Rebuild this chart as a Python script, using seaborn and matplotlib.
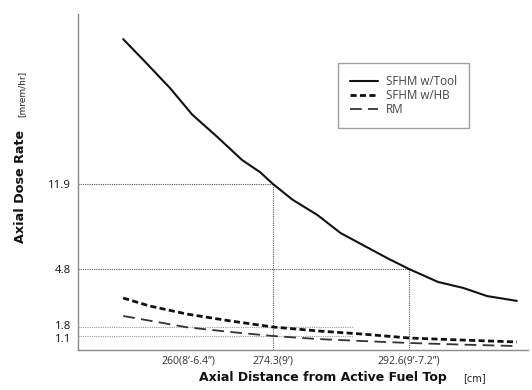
import numpy as np
import pandas as pd
import matplotlib
matplotlib.use("Agg")
import matplotlib.pyplot as plt
import matplotlib.transforms as mtransforms
import seaborn as sns

# ---- data ---------------------------------------------------------------
tool_x = [249.1, 252.8, 257.0, 260.7, 265.0, 269.1, 272.1, 274.3, 276.9,
          280.3, 283.4, 287.0, 289.7, 292.6, 296.5, 299.9, 303.1, 307.1]
tool_y = [24.0, 22.1, 19.9, 17.7, 15.8, 13.9, 12.9, 11.9, 10.6,
          9.3, 7.8, 6.6, 5.7, 4.8, 4.13, 3.82, 3.40, 3.15]

hb_x = [249.1, 253.5, 259.8, 267.2, 274.3, 280.4, 286.1, 292.7, 299.4, 307.1]
hb_y = [3.30, 2.89, 2.47, 2.11, 1.8, 1.49, 1.26, 0.94, 0.79, 0.63]

rm_x = [249.1, 259.8, 267.2, 274.3, 280.4, 286.1, 292.7, 299.4, 307.1]
rm_y = [2.37, 1.78, 1.41, 1.1, 0.86, 0.71, 0.55, 0.43, 0.31]

series_names = ["SFHM w/Tool", "SFHM w/HB", "RM"]

y_marks = [1.1, 1.8, 4.8, 11.9]
y_mark_labels = ["1.1", "1.8", "4.8", "11.9"]
x_marks = [260, 274.3, 292.6]
x_mark_labels = ["260(8\u2019-6.4\u201d)", "274.3(9\u2019)", "292.6(9\u2019-7.2\u201d)"]

# ---- piecewise-linear axis scales ---------------------------------------
def piecewise(knots_in, knots_out):
    ki = np.asarray(knots_in, float)
    ko = np.asarray(knots_out, float)
    s0 = (ko[1] - ko[0]) / (ki[1] - ki[0])
    s1 = (ko[-1] - ko[-2]) / (ki[-1] - ki[-2])

    def fwd(v):
        v = np.asarray(v, float)
        out = np.interp(v, ki, ko)
        out = np.where(v < ki[0], ko[0] + (v - ki[0]) * s0, out)
        out = np.where(v > ki[-1], ko[-1] + (v - ki[-1]) * s1, out)
        return out

    def inv(u):
        u = np.asarray(u, float)
        out = np.interp(u, ko, ki)
        out = np.where(u < ko[0], ki[0] + (u - ko[0]) / s0, out)
        out = np.where(u > ko[-1], ki[-1] + (u - ko[-1]) / s1, out)
        return out

    return fwd, inv

x_fwd, x_inv = piecewise([241.5, 260, 274.3, 292.6, 308.6], [0, 110, 195, 331, 450])
y_fwd, y_inv = piecewise([0, 1.1, 1.8, 4.8, 11.9, 26.1], [0, 14, 23, 81, 166, 336])

# ---- figure -------------------------------------------------------------
sns.set_theme(style="white")
plt.rcParams["font.family"] = ["DejaVu Sans"]

fig = plt.figure(figsize=(5.32, 3.90), dpi=100)
ax = fig.add_axes([78 / 532, 40 / 390, 450 / 532, 336 / 390])
ax.set_xscale("function", functions=(x_fwd, x_inv))
ax.set_yscale("function", functions=(y_fwd, y_inv))
ax.set_xlim(241.5, 308.6)
ax.set_ylim(0, 26.1)

df_tool = pd.DataFrame({"x": tool_x, "y": tool_y})
df_hb = pd.DataFrame({"x": hb_x, "y": hb_y})
df_rm = pd.DataFrame({"x": rm_x, "y": rm_y})

sns.lineplot(data=df_tool, x="x", y="y", ax=ax, color="#111111", lw=1.5,
             label=series_names[0], sort=False)
sns.lineplot(data=df_hb, x="x", y="y", ax=ax, color="#111111", lw=2.0,
             label=series_names[1], sort=False)
sns.lineplot(data=df_rm, x="x", y="y", ax=ax, color="#333333", lw=1.3,
             label=series_names[2], sort=False)
ax.lines[1].set_dashes((2.2, 1.2))
ax.lines[2].set_dashes((6.5, 3.5))

# reference lines to the marked values
dot = (0, (1, 1))
ax.plot([241.5, 274.3], [11.9, 11.9], color="#555555", lw=0.8, ls=dot, zorder=1)
ax.plot([274.3, 274.3], [0, 11.9], color="#555555", lw=0.8, ls=dot, zorder=1)
ax.plot([241.5, 292.6], [4.8, 4.8], color="#555555", lw=0.8, ls=dot, zorder=1)
ax.plot([292.6, 292.6], [0, 4.8], color="#555555", lw=0.8, ls=dot, zorder=1)
ax.plot([241.5, 285.0], [1.8, 1.8], color="#9a9a9a", lw=0.8, ls=dot, zorder=1)
ax.plot([241.5, 285.0], [1.1, 1.1], color="#9a9a9a", lw=0.8, ls=dot, zorder=1)

# axes styling
for side in ("top", "right"):
    ax.spines[side].set_visible(False)
for side in ("left", "bottom"):
    ax.spines[side].set_color("#8a8a8a")
    ax.spines[side].set_linewidth(1.0)

ax.set_yticks(y_marks)
ax.set_yticklabels(y_mark_labels, fontsize=8.2, color="#111111",
                   family=["Open Sans", "DejaVu Sans"])
ax.set_xticks(x_marks)
ax.set_xticklabels(x_mark_labels, fontsize=7.6, color="#333333",
                   family=["Open Sans", "DejaVu Sans"])
ax.tick_params(axis="y", length=0, pad=5)
ax.tick_params(axis="x", direction="in", length=6, width=1, color="#555555", pad=4)
ax.minorticks_off()
ax.set_xlabel("")
ax.set_ylabel("")

# nudge the two closely spaced labels apart
for lbl in ax.get_yticklabels():
    if lbl.get_text() == "1.8":
        lbl.set_transform(lbl.get_transform() +
                          mtransforms.ScaledTranslation(0, 2 / 100, fig.dpi_scale_trans))
    elif lbl.get_text() == "1.1":
        lbl.set_transform(lbl.get_transform() +
                          mtransforms.ScaledTranslation(0, -2.5 / 100, fig.dpi_scale_trans))

# axis titles with units
fig.text(0.607, 0.031, "Axial Distance from Active Fuel Top", fontsize=9,
         fontweight="bold", ha="center", va="center", color="#111111")
fig.text(0.892, 0.031, "[cm]", fontsize=7, ha="center", va="center",
         color="#222222")
fig.text(0.038, 0.523, "Axial Dose Rate", fontsize=9.2, fontweight="bold",
         rotation=90, ha="center", va="center", color="#111111")
fig.text(0.042, 0.758, "[mrem/hr]", fontsize=6.5, rotation=90, ha="center",
         va="center", color="#222222")

leg = ax.legend(loc="upper left", bbox_to_anchor=((338 - 78) / 450, (350 - 63) / 336),
                frameon=True, fancybox=False, edgecolor="#888888",
                handlelength=2.4, handletextpad=0.7,
                borderpad=1.0, labelspacing=0.12, borderaxespad=0,
                prop={"family": ["Open Sans", "DejaVu Sans"], "size": 8.4})
leg.get_frame().set_linewidth(1.0)
for t in leg.get_texts():
    t.set_color("#444444")

fig.savefig("out.png", dpi=100)
